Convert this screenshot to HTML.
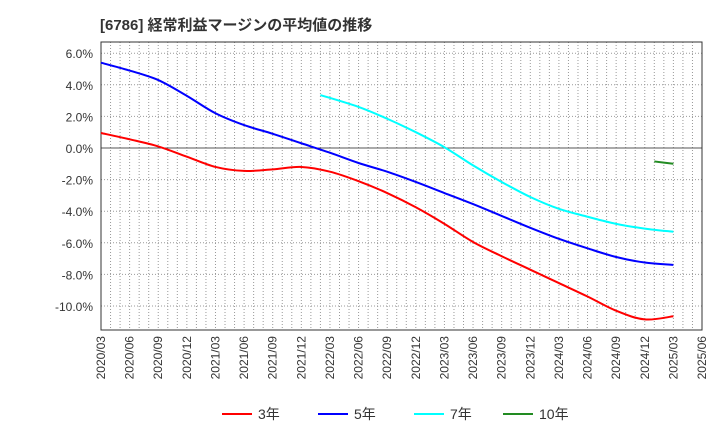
<!DOCTYPE html>
<html><head><meta charset="utf-8"><style>
body{margin:0;background:#fff;font-family:"Liberation Sans","Noto Sans CJK JP",sans-serif}
svg text{font-family:"Liberation Sans","Noto Sans CJK JP",sans-serif}
</style></head><body>
<svg id="c" width="720" height="440" xmlns="http://www.w3.org/2000/svg">
<text x="100" y="30" font-size="15" font-weight="bold" fill="#333">[6786]  経常利益マージンの平均値の推移</text>
<g id="grid"></g><g id="axes"></g><g id="series"></g><g id="legend"></g>
</svg>
<script>
const xTickLabels=["2020/03","2020/06","2020/09","2020/12","2021/03","2021/06","2021/09","2021/12","2022/03","2022/06","2022/09","2022/12","2023/03","2023/06","2023/09","2023/12","2024/03","2024/06","2024/09","2024/12","2025/03","2025/06"];
const yTicks=[6,4,2,0,-2,-4,-6,-8,-10];
const seriesNames=["3年","5年","7年","10年"];
const seriesColors=["#ff0000","#0000ff","#00ffff","#228b22"];
const months3=[0,3,6,9,12,15,18,21,24,27,30,33,36,39,42,45,48,51,54,57,60];
const vals3=[0.95,0.55,0.1,-0.55,-1.2,-1.45,-1.35,-1.2,-1.5,-2.1,-2.85,-3.75,-4.8,-5.95,-6.85,-7.7,-8.55,-9.4,-10.3,-10.85,-10.65];
const months5=[0,3,6,9,12,15,18,21,24,27,30,33,36,39,42,45,48,51,54,57,60];
const vals5=[5.4,4.9,4.3,3.3,2.2,1.45,0.9,0.3,-0.3,-0.95,-1.5,-2.15,-2.85,-3.55,-4.3,-5.05,-5.75,-6.35,-6.9,-7.25,-7.4];
const months7=[23,27,30,33,36,39,42,45,48,51,54,57,60];
const vals7=[3.35,2.6,1.85,1.0,0.05,-1.1,-2.15,-3.1,-3.85,-4.35,-4.8,-5.1,-5.3];
const months10=[58,60];
const vals10=[-0.85,-1.0];
const L=101,R=702,T=42,B=330;
const X=m=>L+m*(R-L)/63;
const Y=v=>148-v*15.8;
const NS="http://www.w3.org/2000/svg";
function mk(tag,attrs,parent){const e=document.createElementNS(NS,tag);for(const k in attrs)e.setAttribute(k,attrs[k]);parent.appendChild(e);return e;}
const grid=document.getElementById('grid'),axes=document.getElementById('axes'),ser=document.getElementById('series'),leg=document.getElementById('legend');
for(let m=1;m<63;m++){const l=mk('line',{x1:X(m),x2:X(m),y1:T,y2:B,stroke:'#999','stroke-dasharray':'1,2','stroke-width':1},grid);

}
yTicks.forEach(v=>{const y=Y(v);
const l=mk('line',{x1:L,x2:R,y1:y,y2:y,stroke:v===0?'#555':'#999','stroke-dasharray':v===0?'':'1,2','stroke-width':1},grid);


const t=mk('text',{x:L-8,y:y+5,'text-anchor':'end','font-size':12,fill:'#333'},axes);t.textContent=v.toFixed(1)+'%';

});
const fr=mk('rect',{x:L,y:T,width:R-L,height:B-T,fill:'none',stroke:'#333','stroke-width':1},axes);


xTickLabels.forEach((s,i)=>{const x=X(i*3)+4;const t=mk('text',{x:x,y:B+6,'text-anchor':'end','font-size':12,fill:'#333',transform:`rotate(-90 ${x} ${B+6})`},axes);t.textContent=s;

});
function path(ms,vs){const p=ms.map((m,i)=>[X(m),Y(vs[i])]);let d=`M${p[0][0]},${p[0][1]}`;
for(let i=0;i<p.length-1;i++){const p0=p[Math.max(0,i-1)],p1=p[i],p2=p[i+1],p3=p[Math.min(p.length-1,i+2)];
d+=` C${p1[0]+(p2[0]-p0[0])/6},${p1[1]+(p2[1]-p0[1])/6} ${p2[0]-(p3[0]-p1[0])/6},${p2[1]-(p3[1]-p1[1])/6} ${p2[0]},${p2[1]}`;}return d;}
[[months3,vals3],[months5,vals5],[months7,vals7],[months10,vals10]].forEach((s,i)=>{
const e=mk('path',{d:path(s[0],s[1]),fill:'none',stroke:seriesColors[i],'stroke-width':2},ser);

});
const lx=[222,318,414,503];
seriesNames.forEach((n,i)=>{const g=mk('g',{},leg);


mk('line',{x1:lx[i],x2:lx[i]+30,y1:414,y2:414,stroke:seriesColors[i],'stroke-width':2},g);
const t=mk('text',{x:lx[i]+36,y:419,'font-size':14,fill:'#333'},g);t.textContent=n;});
</script>
</body></html>
